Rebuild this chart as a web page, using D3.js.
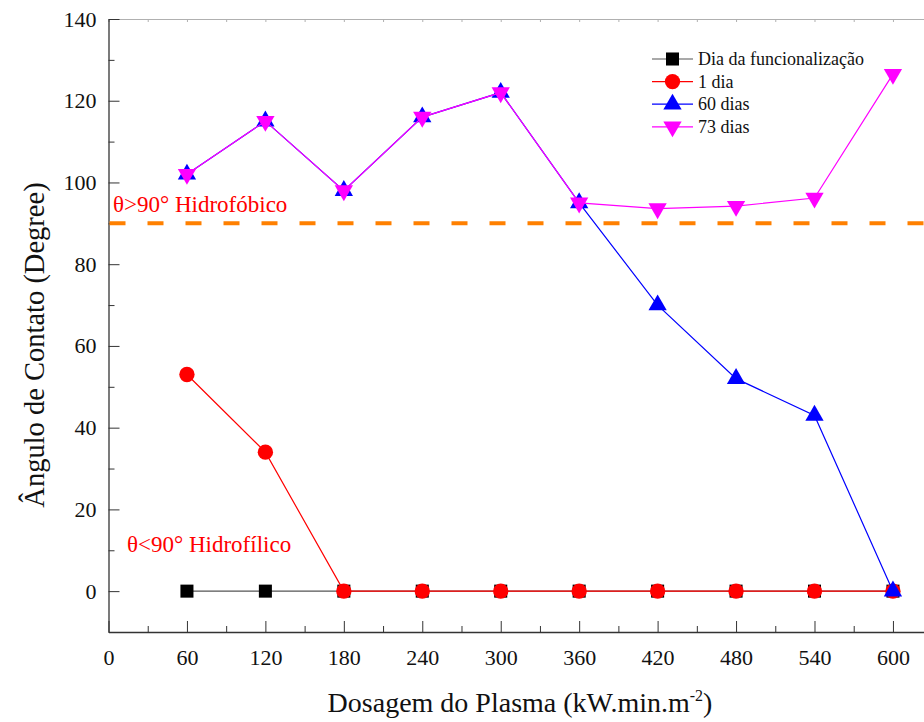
<!DOCTYPE html>
<html>
<head>
<meta charset="utf-8">
<script src="https://cdn.jsdelivr.net/npm/d3@7"></script>
<style>
  html, body { margin: 0; padding: 0; background: #fff; }
  svg { display: block; }
  svg text { font-family: "Liberation Serif", "Times New Roman", "DejaVu Serif", serif; }
</style>
</head>
<body>
<svg id="chart" width="924" height="722"></svg>
<script>
// Plasma dose (kW.min.m^-2)
const dosagem = [60, 120, 180, 240, 300, 360, 420, 480, 540, 600];

// Contact angle (degrees) per ageing time
const diaFuncionalizacao = [0, 0, 0, 0, 0, 0, 0, 0, 0, 0];
const umDia = [53, 34, 0, 0, 0, 0, 0, 0, 0, 0];
const sessentaDias = [102, 115, 98, 116, 122, 95, 70, 52, 43, 0];
const setentaTresDias = [102, 115, 98, 116, 122, 95, 93.6, 94.2, 96.2, 126.5];

const seriesNames = ["Dia da funcionalização", "1 dia", "60 dias", "73 dias"];
const xTicks = [0, 60, 120, 180, 240, 300, 360, 420, 480, 540, 600];
const yTicks = [0, 20, 40, 60, 80, 100, 120, 140];
const limiar = 90;

const series = [
  { name: seriesNames[0], values: diaFuncionalizacao, line: "#555555", fill: "#000000", shape: "square" },
  { name: seriesNames[1], values: umDia, line: "#ff0000", fill: "#ff0000", shape: "circle" },
  { name: seriesNames[2], values: sessentaDias, line: "#0000ff", fill: "#0000ff", shape: "up" },
  { name: seriesNames[3], values: setentaTresDias, line: "#ff00ff", fill: "#ff00ff", shape: "down" }
];

const svg = d3.select("#chart");
const plotLeft = 108.5, plotTop = 19, plotBottom = 632;
const serif = '"Liberation Serif", "Times New Roman", "DejaVu Serif", serif';

const x = d3.scaleLinear().domain([0, 625]).range([plotLeft, plotLeft + 625 * 1.3074]);
const y = d3.scaleLinear().domain([-10, 140]).range([plotBottom, plotTop]);

const axisColor = "#333333";

// faint top frame line with small ticks
const topAxis = svg.append("g").attr("transform", `translate(0,${plotTop})`)
  .call(d3.axisTop(x).tickValues(d3.range(0, 625, 30)).tickSize(-3).tickFormat(""));
topAxis.selectAll("path,line").attr("stroke", "#b0b0b0");

// bottom axis: major ticks every 60, minor every 30, pointing inward
const xMinor = svg.append("g").attr("transform", `translate(0,${plotBottom})`)
  .call(d3.axisBottom(x).tickValues(d3.range(30, 625, 60)).tickSize(-6).tickFormat(""));
xMinor.select(".domain").remove();
xMinor.selectAll("line").attr("stroke", axisColor);

const xAxis = svg.append("g").attr("transform", `translate(0,${plotBottom})`)
  .call(d3.axisBottom(x).tickValues(xTicks).tickSize(-11).tickPadding(17).tickSizeOuter(0));
xAxis.select(".domain").attr("stroke", axisColor).attr("stroke-width", 1.3);
xAxis.selectAll("line").attr("stroke", axisColor);
xAxis.selectAll("text").style("font-family", serif).attr("font-size", 22).attr("fill", "#111");

// left axis: major ticks every 20, minor every 10
const yMinor = svg.append("g").attr("transform", `translate(${plotLeft},0)`)
  .call(d3.axisLeft(y).tickValues(d3.range(-10, 140, 20)).tickSize(-6).tickFormat(""));
yMinor.select(".domain").remove();
yMinor.selectAll("line").attr("stroke", axisColor);

const yAxis = svg.append("g").attr("transform", `translate(${plotLeft},0)`)
  .call(d3.axisLeft(y).tickValues(yTicks).tickSize(-11).tickPadding(12).tickSizeOuter(0));
yAxis.select(".domain").attr("stroke", axisColor).attr("stroke-width", 1.3);
yAxis.selectAll("line").attr("stroke", axisColor);
yAxis.selectAll("text").style("font-family", serif).attr("font-size", 22).attr("fill", "#111");

// threshold line at 90 degrees
svg.append("line")
  .attr("x1", plotLeft + 1).attr("x2", 924)
  .attr("y1", y(limiar)).attr("y2", y(limiar))
  .attr("stroke", "#ff8000").attr("stroke-width", 4).attr("stroke-dasharray", "16,22");

svg.append("text").attr("x", 113).attr("y", 212)
  .attr("font-size", 23).attr("fill", "#ff0000").text("θ>90° Hidrofóbico");
svg.append("text").attr("x", 127).attr("y", 552)
  .attr("font-size", 23).attr("fill", "#ff0000").text("θ<90° Hidrofílico");

// marker shapes
const symbolFor = {
  square: d3.symbol().type(d3.symbolSquare).size(170),
  circle: d3.symbol().type(d3.symbolCircle).size(185),
  up: d3.symbol().type(d3.symbolTriangle).size(145),
  down: d3.symbol().type(d3.symbolTriangle).size(145)
};
function drawMarker(g, s, px, py) {
  const path = g.append("path").attr("d", symbolFor[s.shape]()).attr("fill", s.fill);
  if (s.shape === "down") path.attr("transform", `translate(${px},${py}) rotate(180)`);
  else path.attr("transform", `translate(${px},${py})`);
}

const line = d3.line().x(d => x(d[0])).y(d => y(d[1]));
series.forEach(s => {
  const g = svg.append("g");
  const pts = dosagem.map((d, i) => [d, s.values[i]]);
  g.append("path").attr("d", line(pts)).attr("fill", "none")
    .attr("stroke", s.line).attr("stroke-width", 1.2);
  pts.forEach(p => drawMarker(g, s, x(p[0]), y(p[1])));
});

// legend
const legend = svg.append("g");
series.forEach((s, i) => {
  const ly = 59 + i * 22.6;
  legend.append("line").attr("x1", 652).attr("x2", 693).attr("y1", ly).attr("y2", ly)
    .attr("stroke", s.line).attr("stroke-width", 1.2);
  drawMarker(legend, s, 672.5, ly);
  legend.append("text").attr("x", 698).attr("y", ly + 6)
    .attr("font-size", 18).attr("fill", "#111").text(s.name);
});

// axis titles
const xt = svg.append("text").attr("x", 520).attr("y", 712).attr("text-anchor", "middle")
  .attr("font-size", 28).attr("fill", "#111");
xt.append("tspan").text("Dosagem do Plasma (kW.min.m");
xt.append("tspan").attr("dy", -11).attr("font-size", 16).text("-2");
xt.append("tspan").attr("dy", 11).text(")");

svg.append("text")
  .attr("transform", "translate(44,345) rotate(-90)")
  .attr("text-anchor", "middle").attr("font-size", 28.5).attr("fill", "#111")
  .text("Ângulo de Contato (Degree)");
</script>
</body>
</html>
